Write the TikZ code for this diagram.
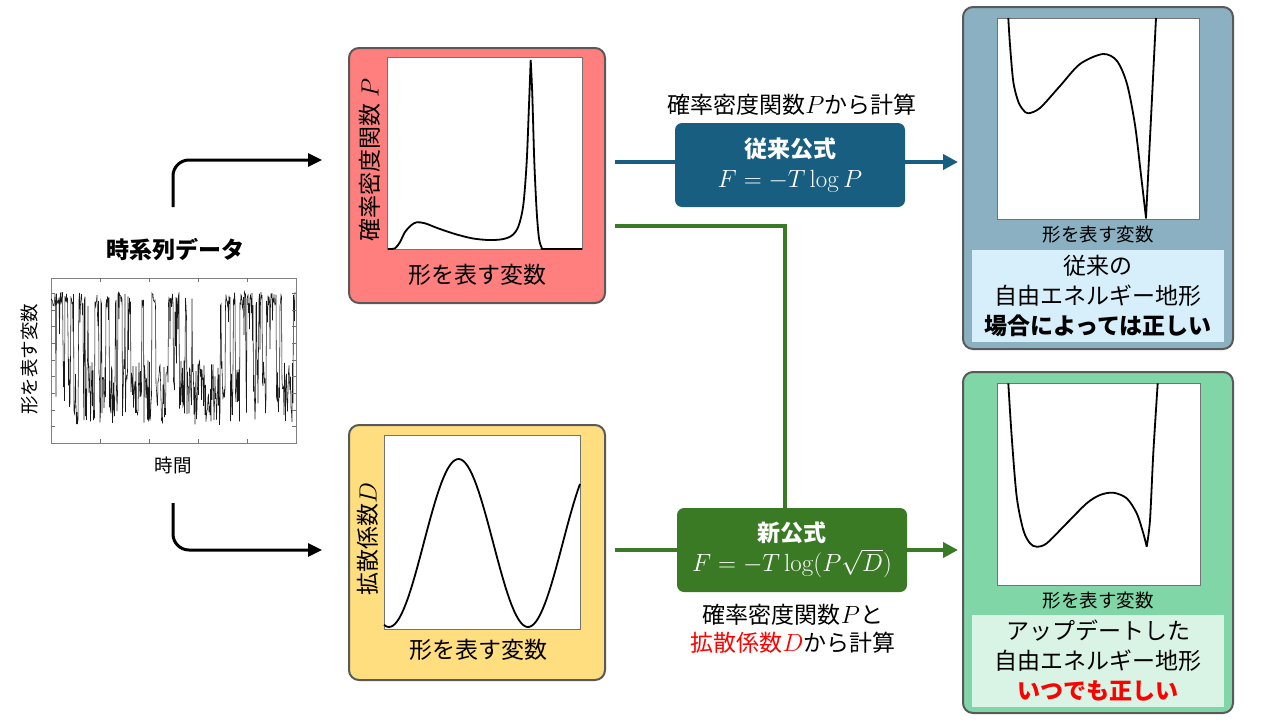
\documentclass[tikz,border=0pt]{standalone}
\usepackage[no-math]{fontspec}
\setmainfont{Noto Sans CJK JP}
\usetikzlibrary{arrows.meta}

\definecolor{pred}{RGB}{255,127,127}
\definecolor{pyellow}{RGB}{255,222,128}
\definecolor{pblue}{RGB}{138,176,193}
\definecolor{pgreen}{RGB}{128,214,166}
\definecolor{lblue}{RGB}{214,239,250}
\definecolor{lgreen}{RGB}{217,243,228}
\definecolor{fblue}{RGB}{24,94,128}
\definecolor{fgreen}{RGB}{58,122,36}
\definecolor{edge}{RGB}{89,89,89}

\begin{document}
\begin{tikzpicture}[x=1pt, y=-1pt,
  panel/.style={rectangle, draw=edge, line width=2pt, rounded corners=10pt, inner sep=0pt},
  frame/.style={rectangle, draw=black!55, fill=white, line width=1pt, inner sep=0pt},
  txt/.style={font=\fontsize{23}{30}\selectfont, align=center, inner sep=0pt},
  small/.style={font=\fontsize{18.5}{22}\selectfont, align=center, inner sep=0pt},
  fbox/.style={rectangle, rounded corners=7pt, text=white, minimum width=230pt, minimum height=84pt, align=center, inner sep=0pt, font=\fontsize{23}{30}\selectfont},
  curve/.style={line width=1.8pt, line join=round},
  tick/.style={black!55, line width=0.8pt},
  tsline/.style={line width=0.55pt, opacity=0.9},
  bk/.style={line width=3pt, -{Triangle[length=14pt, width=13pt]}, rounded corners=16pt},
  bl/.style={line width=4pt, fblue},
  gr/.style={line width=4pt, fgreen},
  tip/.style={-{Triangle[length=15pt, width=15pt]}}
]
\useasboundingbox (0,0) rectangle (1280,720);

\node at (175,250) [txt, font=\fontsize{23}{30}\selectfont\bfseries] (tstitle) {時系列データ};
\node at (173.5,360.5) [frame, draw=black!50, minimum width=245pt, minimum height=165pt] (tsplot) {};
\node at (30,359) [small, rotate=90] (tsyl) {形を表す変数};
\node at (173,465) [small] (tsxl) {時間};

\pgfmathsetseed{11}
\xdef\tsst{1}
\xdef\tspath{(51,300)}
\foreach \i in {1,...,488}{
  \pgfmathparse{rnd<0.13 ? 1-\tsst : \tsst}
  \xdef\tsst{\pgfmathresult}
  \pgfmathparse{\tsst>0.5 ? 299+7*rand+(rnd<0.15)*50*rnd : 392+33*rand}
  \xdef\tspath{\tspath -- (51+\i*0.5,\pgfmathresult)}
}
\begin{scope}
  \clip (tsplot.north west) rectangle (tsplot.south east);
  \draw[tsline] \tspath;
\end{scope}
\foreach \tx in {100,149,198,247}{
  \draw[tick] (\tx,443) -- ++(0,-4);
  \draw[tick] (\tx,278) -- ++(0,4);
}
\foreach \k in {0,...,8}{
  \draw[tick] (296,293.3+16.67*\k) -- ++(-4,0);
  \draw[tick] (51,293.3+16.67*\k) -- ++(4,0);
}

\node at (477,175.5) [panel, fill=pred, minimum width=256pt, minimum height=255pt] (ppanel) {};
\node at (484.5,153) [frame, minimum width=195pt, minimum height=192pt] (pframe) {};
\node at (370,160) [txt, rotate=90] (pyl) {確率密度関数 $P$};
\node at (477,275) [txt] (pxl) {形を表す変数};
\draw[curve] plot[smooth] coordinates {(388,249) (395,248.3) (400,242) (405,232) (411.5,225) (416.7,222.3) (425,223.3) (438,228.3) (455,234) (472,238.3) (488,240) (502,239.3) (511.7,235.7) (518.3,226.7) (523.3,205) (526.7,161.7) (529,105) (530.7,60)}
  plot[smooth] coordinates {(530.7,60) (532.3,95) (534.3,161.7) (536.7,211.7) (539,238.3) (541.7,247.7) (545,249) (582,249)};

\node at (477,552.5) [panel, fill=pyellow, minimum width=256pt, minimum height=255pt] (dpanel) {};
\node at (482,532) [frame, minimum width=196pt, minimum height=194pt] (dframe) {};
\node at (368,539) [txt, rotate=90] (dyl) {拡散係数$D$};
\node at (478,650) [txt] (dxl) {形を表す変数};
\draw[curve] plot[domain=384:580, samples=90] (\x, {543+84*cos((\x-389)*2.59)});

\node at (1098,178) [panel, fill=pblue, minimum width=270pt, minimum height=342pt] (opanel) {};
\node at (1098,118.5) [frame, minimum width=202pt, minimum height=201pt] (oframe) {};
\node at (1098,235) [small] (oxl) {形を表す変数};
\node at (1098,296) [txt, fill=lblue, minimum width=252pt, minimum height=92pt] (obox) {従来の\\自由エネルギー地形\\\textbf{場合によっては正しい}};
\draw[curve] plot[smooth] coordinates {(1008.3,18) (1010,45) (1013.3,81.7) (1018.3,101.7) (1023.3,110) (1028.3,113.3) (1040,108) (1060,86) (1080,64) (1103,54) (1117,61) (1127,84) (1135,125) (1141,175) (1146,218)} -- (1156,18);

\node at (1098,542.5) [panel, fill=pgreen, minimum width=270pt, minimum height=341pt] (npanel) {};
\node at (1098.5,484) [frame, minimum width=203pt, minimum height=202pt] (nframe) {};
\node at (1098,601) [small] (nxl) {形を表す変数};
\node at (1098,661) [txt, fill=lgreen, minimum width=252pt, minimum height=92pt] (nbox) {アップデートした\\自由エネルギー地形\\\textcolor{red}{\textbf{いつでも正しい}}};
\draw[curve] plot[smooth] coordinates {(1008.3,383.3) (1011.7,436.7) (1016.7,496.7) (1023.3,530) (1030,543.3) (1036.7,546.7) (1046.7,543.3) (1066.7,523.3) (1086.7,503.3) (1100,495) (1113.3,492.7) (1126.7,498.3) (1136.7,513.3) (1143.3,533.3) (1146.7,546.7)}
  plot[smooth] coordinates {(1146.7,546.7) (1150,520) (1153.3,453) (1157.7,383.3)};

\node at (790,165) [fbox, fill=fblue] (oldf) {\textbf{従来公式}\\{\fontsize{26}{30}\selectfont$F=-T\log P$}};
\node at (792,105) [txt] (oldlbl) {確率密度関数$P$から計算};
\node at (792,550) [fbox, fill=fgreen] (newf) {\textbf{新公式}\\{\fontsize{26}{30}\selectfont$F=-T\log(P\sqrt{D})$}};
\node at (793,629) [txt, font=\fontsize{23}{28}\selectfont] (newlbl) {確率密度関数$P$と\\\textcolor{red}{拡散係数$D$}から計算};

\coordinate (tsup) at (173,207);
\coordinate (tsdown) at (173,503);
\coordinate (ptip) at (322,160);
\coordinate (dtip) at (322,550);
\coordinate (pout) at (615,162);
\coordinate (pgout) at (615,226);
\coordinate (dout) at (615,550);
\coordinate (otip) at (958,162);
\coordinate (ntip) at (958,550);

\draw[bk] (tsup) |- (ptip);
\draw[bk] (tsdown) |- (dtip);
\draw[bl] (pout) -- (oldf.west |- pout);
\draw[bl, tip] (oldf.east |- pout) -- (otip);
\draw[gr] (pgout) -| ([xshift=-7pt]newf.north);
\draw[gr] (dout) -- (newf.west);
\draw[gr, tip] (newf.east) -- (ntip);

\end{tikzpicture}
\end{document}
